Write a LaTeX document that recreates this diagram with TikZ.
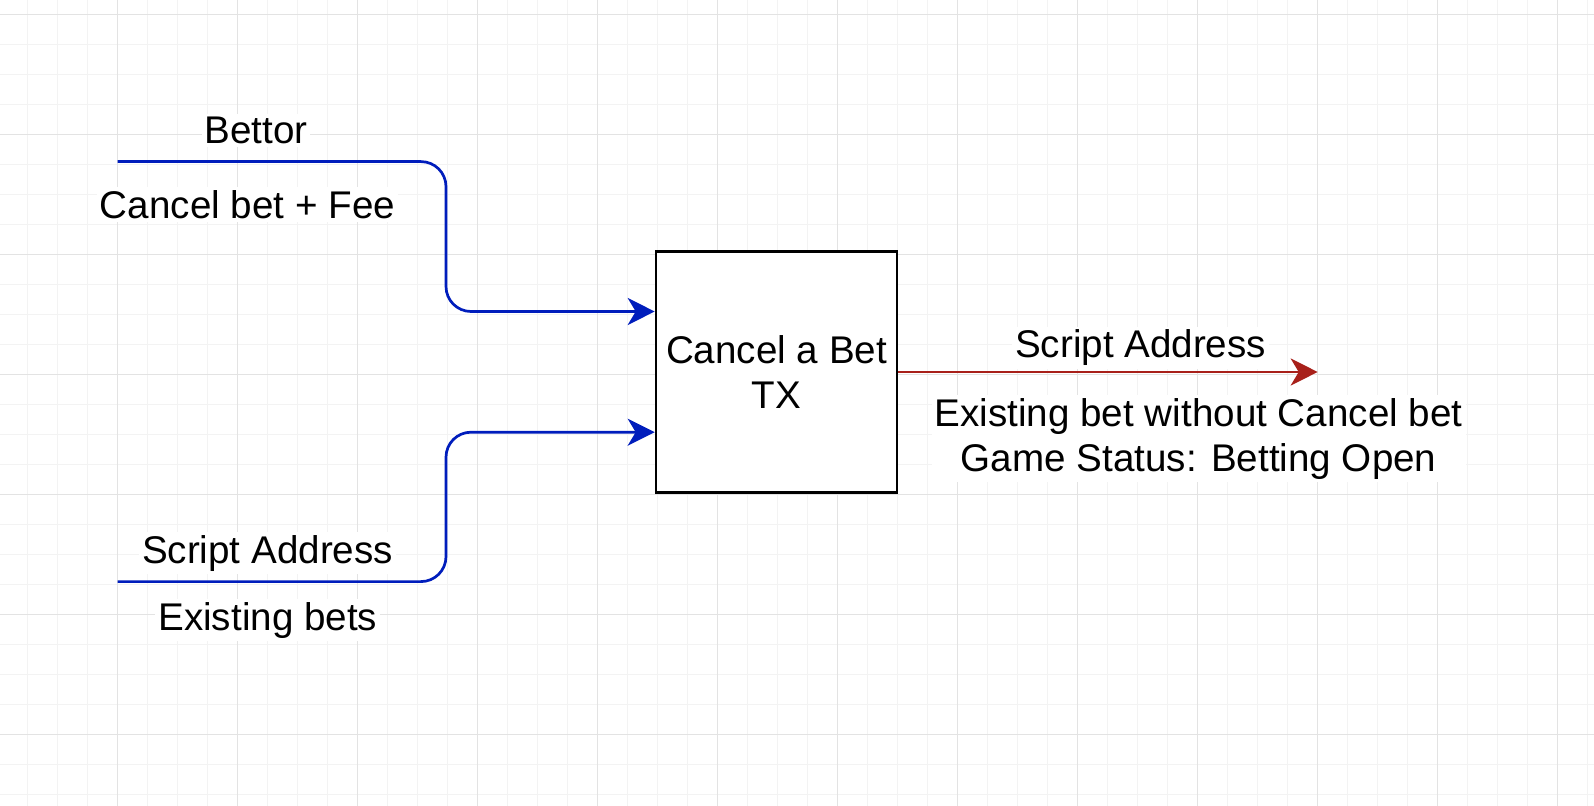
\documentclass[tikz,border=0pt]{standalone}
\usepackage{fontspec}
\setmainfont{Liberation Sans}
\usetikzlibrary{arrows.meta}
\definecolor{edgeblue}{HTML}{001DBC}
\definecolor{edgered}{HTML}{A8201A}
\definecolor{gridminor}{HTML}{F3F3F3}
\definecolor{gridmajor}{HTML}{E3E3E3}
\begin{document}
\begin{tikzpicture}[x=0.5pt,y=-0.5pt,
  font=\fontsize{19.3pt}{22.6pt}\selectfont,
  minorgrid/.style={draw=gridminor, line width=0.5pt},
  majorgrid/.style={draw=gridmajor, line width=0.6pt},
  txbox/.style={draw=black, line width=1.3pt, fill=white, minimum width=120.5pt, minimum height=120.5pt, inner sep=0pt, align=center},
  tip/.style={-{Stealth[length=13.5pt,width=13.5pt,inset=4pt]}},
  inflow/.style={draw=edgeblue, line width=1.35pt, rounded corners=12.5pt, tip},
  outflow/.style={draw=edgered, line width=1.35pt, tip},
  lbl/.style={fill=white, inner sep=1.5pt, anchor=base, align=center}
]
\useasboundingbox (0,0) rectangle (1594,806);
\fill[white] (0,0) rectangle (1594,806);
% grid
\foreach \k in {0,...,52} \draw[minorgrid] ({27.7+30*\k},0) -- ({27.7+30*\k},806);
\foreach \k in {0,...,26} \draw[minorgrid] (0,{14.5+30*\k}) -- (1594,{14.5+30*\k});
\foreach \k in {0,...,12} \draw[majorgrid] ({117.7+120*\k},0) -- ({117.7+120*\k},806);
\foreach \k in {0,...,6} \draw[majorgrid] (0,{14.5+120*\k}) -- (1594,{14.5+120*\k});

% main box
\node[txbox] (box) at (776.5,372) {Cancel a Bet\\TX};

% connector end points
\coordinate (s1) at (117.7,161.6);
\coordinate (c1) at (446,311.5);
\coordinate (s2) at (117.7,581.6);
\coordinate (c2) at (446,432.2);
\coordinate (e1) at (1317.7,372);

\draw[inflow] (s1) -| (c1) -- (c1 -| box.west);
\draw[inflow] (s2) -| (c2) -- (c2 -| box.west);
\draw[outflow] (box.east |- e1) -- (e1);

% labels
\node[lbl] (l1) at (256,144) {Bettor};
\node[lbl] (l2) at (247.5,218.3) {Cancel bet + Fee};
\node[lbl] (l3) at (267.5,563.3) {Script Address};
\node[lbl] (l4) at (267.8,630) {Existing bets};
\node[lbl] (l5) at (1140.6,358) {Script Address};
\node[lbl] (l6) at (1198.6,471.3) {Existing bet without Cancel bet\\Game Status: Betting Open};
\end{tikzpicture}
\end{document}
